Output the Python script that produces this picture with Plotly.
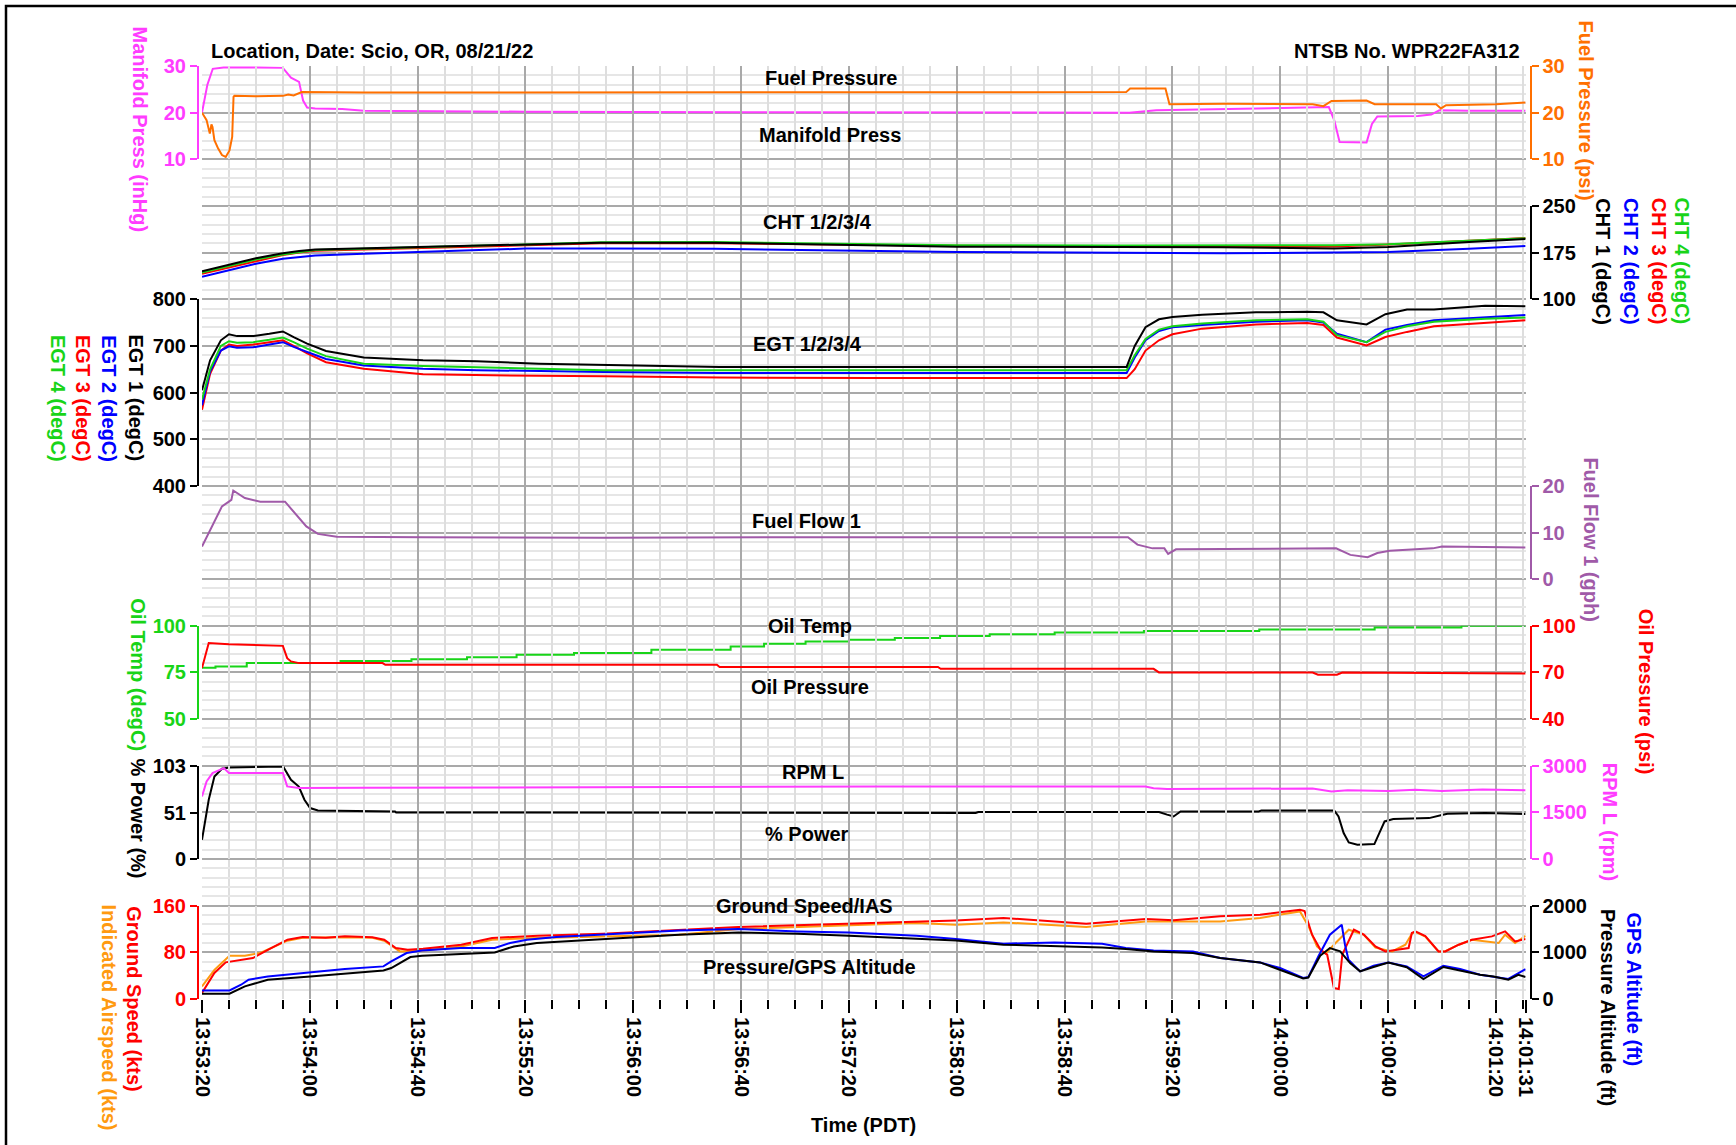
import plotly.graph_objects as go

# ---------------- time axis (seconds after 13:53:20) ----------------
tick_seconds = [0, 40, 80, 120, 160, 200, 240, 280, 320, 360, 400, 440, 480, 491]
tick_labels = ["13:53:20", "13:54:00", "13:54:40", "13:55:20", "13:56:00", "13:56:40",
               "13:57:20", "13:58:00", "13:58:40", "13:59:20", "14:00:00", "14:00:40",
               "14:01:20", "14:01:31"]

# ---------------- Manifold pressure (inHg) ----------------
map_t = [0, 2, 4, 8, 20, 30, 33, 36, 37.5, 39, 42, 52, 60, 120, 200, 300, 344, 354, 378,
         412, 418, 420, 422, 432, 434, 436, 451, 456, 459, 470, 491]
map_v = [20, 26, 29.4, 29.7, 29.7, 29.6, 27.5, 26.6, 22.6, 21.1, 20.9, 20.8, 20.4, 20.2,
         20.1, 20.0, 20.0, 20.5, 20.8, 21.1, 21.2, 18.4, 13.7, 13.6, 17.6, 19.2, 19.3,
         19.6, 20.5, 20.4, 20.4]

# ---------------- Fuel pressure (psi) ----------------
fp_t = [0, 1.7, 2.9, 3.5, 3.9, 4.6, 6.0, 7.4, 8.8, 10.2, 11.2, 11.7, 12, 20, 30, 32, 34,
        37, 60, 120, 200, 300, 342.8, 344.3, 357.4, 358.9, 380, 412, 416, 419, 432, 435,
        457.8, 459.6, 461.5, 480, 491]
fp_v = [20, 18.4, 15.5, 17.5, 16.9, 14.1, 12.3, 10.9, 10.5, 11.9, 14.8, 23.4, 23.6, 23.5,
        23.6, 23.9, 23.7, 24.4, 24.3, 24.3, 24.4, 24.3, 24.4, 25.2, 25.2, 21.8, 21.9, 21.8,
        21.4, 22.5, 22.6, 21.8, 21.8, 20.9, 21.6, 21.8, 22.2]

# ---------------- CHT (degC) ----------------
cht_t = [0, 10, 20, 30, 36, 42, 60, 80, 120, 148, 190, 280, 340, 378, 420, 440, 470, 491]
cht1 = [145, 155, 166, 174, 177.7, 180, 182, 184, 188.4, 191, 191, 184.5, 184, 183.5, 181.5, 184, 192, 197]
cht2 = [136, 146, 157, 165, 168, 170.5, 173, 176, 181.5, 181.5, 181, 176, 175, 174, 175, 176, 181, 185.7]
cht3 = [141, 151, 162, 171, 175, 178, 180, 182.5, 187, 190, 190, 186, 185, 184, 185, 188, 194, 198.6]
cht4 = [143, 153, 164, 172, 176, 179, 181, 183.5, 189, 191.5, 192, 187, 186.5, 186.5, 187, 188.5, 194, 198]

# ---------------- EGT (degC) ----------------
egt_t = [0, 3, 7, 10, 13, 19, 25, 30, 34, 39, 46, 60, 82, 102, 125, 149, 192, 250, 300, 343,
         346, 350, 355, 360, 371, 391, 410, 416, 421, 432, 439, 447, 457, 476, 491]
egt1 = [605, 669, 712, 725, 721, 721, 726, 731, 719, 705, 689, 675, 669, 667, 662, 660, 655,
        655, 655, 655, 700, 740, 757, 762, 767, 772, 773, 772, 755, 746, 768, 778, 778, 786, 785]
egt2 = [573, 645, 690, 699, 696, 697, 703, 708, 698, 687, 672, 658, 651, 648, 646, 644, 642,
        642, 642, 642, 675, 712, 732, 740, 745, 752, 755, 750, 726, 708, 735, 745, 755, 762, 766]
egt3 = [563, 640, 690, 703, 700, 703, 708, 712, 700, 684, 665, 651, 639, 637, 636, 635, 632,
        631, 631, 631, 650, 690, 712, 725, 737, 746, 749, 745, 718, 701, 719, 730, 742, 750, 755]
egt4 = [585, 650, 700, 710, 707, 708, 713, 718, 708, 694, 678, 662, 657, 654, 650, 648, 648,
        648, 648, 648, 680, 715, 735, 742, 748, 755, 757, 752, 723, 708, 730, 742, 752, 758, 761]

# ---------------- Fuel flow (gph) ----------------
ff_t = [0, 7.4, 10.9, 11.6, 15.9, 21.6, 30.8, 34.4, 38.7, 43, 50, 82, 149, 250, 343.5, 347,
        352.6, 357, 358.4, 361.3, 378, 420.7, 426, 432.4, 436, 440.6, 456.6, 460, 491]
ff_v = [7.0, 15.6, 17.0, 19.0, 17.4, 16.6, 16.6, 14.1, 11.3, 9.7, 9.1, 9.0, 8.9, 9.0, 9.0,
        7.4, 6.6, 6.6, 5.4, 6.4, 6.5, 6.6, 5.2, 4.7, 5.6, 6.1, 6.6, 7.0, 6.8]

# ---------------- Oil temperature (degC) ----------------
ot_t = [0, 5, 16.6, 51.4, 77.7, 98.3, 116.7, 138, 166.7, 196.1, 208.5, 223.9, 240, 257,
        273.8, 292.2, 316.3, 349.4, 392.2, 435, 467.2, 491]
ot_v = [77.5, 78.2, 80.0, 81.2, 82.1, 83.2, 84.5, 85.4, 87.1, 88.9, 90.4, 91.6, 92.5, 93.4,
        94.6, 95.5, 96.4, 97.2, 98.0, 99.1, 100.0, 100.0]

# ---------------- Oil pressure (psi) ----------------
op_t = [0, 2.5, 10, 30, 31.6, 33, 36, 67, 68, 191, 192, 273, 274, 353, 355, 412, 414, 421, 423, 491]
op_v = [72.8, 88.9, 88.2, 87.1, 79.2, 77.1, 76.0, 76.0, 74.9, 74.9, 73.5, 73.5, 72.3, 72.3,
        70.0, 70.0, 68.6, 68.6, 70.0, 69.3]

# ---------------- RPM ----------------
rpm_t = [0, 1.7, 3.9, 8.1, 10, 30, 31.6, 35.9, 60, 150, 250, 350, 353, 358, 380, 412, 419,
         425, 440, 450, 460, 475, 491]
rpm_v = [2013, 2495, 2765, 2925, 2765, 2765, 2335, 2283, 2290, 2310, 2330, 2330, 2280, 2250,
         2260, 2270, 2170, 2210, 2190, 2230, 2190, 2240, 2210]

# ---------------- % Power ----------------
pw_t = [0, 2.5, 4.6, 7.4, 10.2, 30.1, 33, 35.9, 38, 40.1, 43, 71.6, 72, 287, 288, 355, 358,
        360.4, 363, 392, 393, 420, 421.6, 423.5, 425.4, 428.6, 434.9, 436.8, 438.7, 441.9,
        455.2, 460.3, 462, 476, 491]
pw_v = [21.3, 65.5, 91.2, 99.7, 101.1, 102.2, 87.5, 80.1, 65.5, 56.3, 53.7, 52.6, 51.4, 50.8,
        51.9, 51.9, 49, 47, 52.6, 52.6, 53.7, 53.7, 47, 28.7, 18.3, 15.8, 16.5, 28.7, 41.5,
        44.1, 45.2, 48.9, 50, 50.8, 49.8]

# ---------------- Ground speed (kts) ----------------
gs_t = [0, 4.6, 8.8, 13.1, 18.9, 24.6, 31.7, 37.3, 45.9, 53, 63.2, 67.6, 71.9, 76.3, 82,
        96.2, 107.6, 124.6, 148.7, 199, 240, 279.7, 297.3, 328, 350.1, 360.5, 377.7, 392.5,
        407.3, 409, 411.8, 414.9, 417.4, 419.9, 421.7, 423, 427.3, 431, 435.3, 439, 447.6,
        448.8, 450.1, 453.8, 458.7, 461.2, 466.2, 471.1, 478.5, 483.4, 487.1, 491]
gs_v = [10.3, 44.6, 62.8, 65.7, 70.3, 84.5, 101.7, 106.3, 105, 107.4, 106, 101.7, 87.4, 84.5,
        86, 93.1, 104.6, 108.5, 112, 123.4, 129.1, 134.8, 138.9, 129.1, 137.2, 135, 141.7,
        144.6, 153.1, 151, 110.3, 84.5, 76, 18.8, 17.1, 76, 118.8, 110.3, 90.2, 81.6, 87.4,
        113.2, 116, 108, 81.6, 81.6, 93.1, 101.7, 107.4, 116, 98.8, 102.9]

# ---------------- Indicated airspeed (kts) ----------------
ias_t = [0, 4.6, 10.2, 15.9, 21.6, 31.7, 37.3, 53, 63.2, 67.6, 73.4, 82, 96.2, 107.6, 124.6,
         148.7, 177, 199, 240, 265, 279.7, 297.3, 328, 350.1, 377.7, 392.5, 407.3, 410.5,
         413.6, 416.8, 420.5, 425.4, 431, 435.3, 441.5, 446.4, 448.8, 450.1, 453.8, 458.7,
         461.2, 466.2, 471.1, 481, 483.4, 487.1, 491]
ias_v = [21.6, 50, 74.3, 74.3, 78.9, 100, 105, 106, 105, 100, 81.6, 83.3, 90, 101.7, 104.6,
         107.4, 110.3, 120, 125.7, 130.3, 127.3, 131.4, 123.4, 133.1, 133, 138.9, 150.2,
         124.5, 90.2, 77.7, 96, 118.8, 110, 88, 81.6, 93.1, 112, 115, 107, 81.6, 82, 93.1,
         101.7, 96, 110.3, 96, 108.5]

# ---------------- GPS altitude (ft) ----------------
gps_t = [0, 10.2, 14.5, 17.3, 24.4, 40.2, 53, 67.3, 70.2, 75.9, 81.6, 95.8, 108.6, 114.3,
         120.6, 131.4, 148.2, 177, 199, 220.9, 240, 265, 279.7, 297.3, 316.3, 333.9, 342.7,
         353, 367.6, 377.7, 392.5, 399.9, 408.5, 410.4, 414.1, 418.4, 422.8, 424, 425.3,
         429.6, 434.6, 440.1, 446.9, 453.1, 460.5, 466.7, 474.1, 479.1, 484.6, 491]
gps_v = [184, 184, 306, 413, 484, 570, 642, 699, 806, 986, 1042, 1093, 1093, 1200, 1271,
         1329, 1385, 1470, 1500, 1449, 1428, 1357, 1286, 1185, 1213, 1185, 1093, 1042, 1020,
         879, 784, 664, 450, 470, 913, 1378, 1592, 1164, 842, 592, 714, 784, 700, 484, 714,
         642, 521, 484, 429, 642]

# ---------------- Pressure altitude (ft) ----------------
palt_t = [0, 10.2, 15.9, 24.4, 40.2, 53, 67.3, 70.2, 77.3, 81.6, 95.8, 108.6, 115.7, 124.2,
          148.2, 177, 199, 220.9, 240, 265, 279.7, 297.3, 316.3, 333.9, 342.7, 353, 367.6,
          377.7, 392.5, 399.9, 408.5, 410.4, 414.8, 418.4, 422.2, 425.9, 429.6, 434.6,
          440.1, 446.9, 453.1, 460.5, 466.7, 474.1, 479.1, 484.6, 488.3, 491]
palt_v = [113, 113, 270, 413, 484, 542, 613, 664, 900, 928, 971, 999, 1127, 1200, 1280,
          1378, 1428, 1400, 1357, 1286, 1256, 1164, 1127, 1106, 1072, 1020, 986, 879, 784,
          628, 442, 460, 928, 1093, 1020, 771, 592, 686, 784, 680, 429, 686, 613, 521, 484,
          413, 520, 471]

# ---------------- styling ----------------
MAGENTA = "#ff3cff"
ORANGE = "#ff7000"
IAS_OR = "#ff9a10"
BLACK = "#000000"
BLUE = "#0000ff"
RED = "#ff0000"
GREEN = "#18d418"
PURPLE = "#a05aa8"
FONT = "Arial, 'Liberation Sans', sans-serif"

W_FIG, H_FIG = 1736, 1145
ML, MR, MT, MB = 180, 190, 66, 146
PW = W_FIG - ML - MR
PH = H_FIG - MT - MB


def fx(px):
    return (px - ML) / PW


def fy(py):
    return 1 - (py - MT) / PH


def dom(g0, g1):
    return [1 - g1 / 20, 1 - g0 / 20]


X0, X1 = fx(202), fx(1525.6)
LEFT_POS, RIGHT_POS = fx(198), fx(1530.5)

fig = go.Figure()

# invisible trace so that the background grid subplot (x, y) is rendered
fig.add_trace(go.Scatter(x=[0, 491], y=[0, 20], xaxis="x", yaxis="y", mode="markers",
                         marker=dict(opacity=0, size=1), showlegend=False,
                         hoverinfo="skip"))


def add(t, v, yax, color, shape="linear"):
    fig.add_trace(go.Scatter(x=t, y=v, yaxis=yax, xaxis="x", mode="lines",
                             line=dict(color=color, width=2, shape=shape),
                             showlegend=False, hoverinfo="skip"))


add(fp_t, fp_v, "y3", ORANGE)
add(map_t, map_v, "y2", MAGENTA)
add(cht_t, cht2, "y4", BLUE)
add(cht_t, cht3, "y4", RED)
add(cht_t, cht4, "y4", GREEN)
add(cht_t, cht1, "y4", BLACK)
add(egt_t, egt3, "y5", RED)
add(egt_t, egt2, "y5", BLUE)
add(egt_t, egt4, "y5", GREEN)
add(egt_t, egt1, "y5", BLACK)
add(ff_t, ff_v, "y6", PURPLE)
add(ot_t, ot_v, "y7", GREEN, "hv")
add(op_t, op_v, "y8", RED)
add(rpm_t, rpm_v, "y10", MAGENTA)
add(pw_t, pw_v, "y9", BLACK)
add(ias_t, ias_v, "y11", IAS_OR)
add(gs_t, gs_v, "y11", RED)
add(gps_t, gps_v, "y12", BLUE)
add(palt_t, palt_v, "y12", BLACK)


def yax(side, d, rng, tickvals, color):
    return dict(domain=d, range=rng, anchor="free",
                position=LEFT_POS if side == "left" else RIGHT_POS, side=side,
                tickmode="array", tickvals=tickvals, showgrid=False, zeroline=False,
                showline=True, linecolor=color, linewidth=2, ticks="outside",
                ticklen=7, tickwidth=2, tickcolor=color,
                tickfont=dict(family=FONT, size=20, color=color, weight="bold"),
                automargin=False, fixedrange=True)


layout = dict(
    width=W_FIG, height=H_FIG, template="none",
    margin=dict(l=ML, r=MR, t=MT, b=MB, pad=0),
    paper_bgcolor="white", plot_bgcolor="rgba(0,0,0,0)",
    showlegend=False, font=dict(family=FONT, size=20, color="black"),
    xaxis=dict(domain=[X0, X1], range=[0, 491], anchor="y", tickmode="array",
               tickvals=tick_seconds, ticktext=tick_labels, tickangle=90,
               ticks="outside", ticklen=13, tickwidth=2, tickcolor="black",
               tickfont=dict(family=FONT, size=20, color="black", weight="bold"),
               showgrid=True, gridcolor="#a9a9a9", gridwidth=2, zeroline=False,
               showline=False, automargin=False, fixedrange=True,
               minor=dict(tickmode="linear", tick0=0, dtick=10, ticks="outside",
                          ticklen=9, tickwidth=2, tickcolor="black", showgrid=True,
                          gridcolor="#dedede", gridwidth=1.5)),
    yaxis=dict(domain=[0, 1], range=[0, 20], tickmode="linear", tick0=0, dtick=1,
               showticklabels=False, ticks="", showgrid=True, gridcolor="#a9a9a9",
               gridwidth=2, zeroline=False, showline=False, automargin=False,
               fixedrange=True,
               minor=dict(tickmode="linear", tick0=0, dtick=0.2, showgrid=True,
                          gridcolor="#e6e6e6", gridwidth=1.5, ticks="")),
    yaxis2=yax("left", dom(0, 2), [10, 30], [10, 20, 30], MAGENTA),
    yaxis3=yax("right", dom(0, 2), [10, 30], [10, 20, 30], ORANGE),
    yaxis4=yax("right", dom(3, 5), [100, 250], [100, 175, 250], BLACK),
    yaxis5=yax("left", dom(5, 9), [400, 800], [400, 500, 600, 700, 800], BLACK),
    yaxis6=yax("right", dom(9, 11), [0, 20], [0, 10, 20], PURPLE),
    yaxis7=yax("left", dom(12, 14), [50, 100], [50, 75, 100], GREEN),
    yaxis8=yax("right", dom(12, 14), [40, 100], [40, 70, 100], RED),
    yaxis9=yax("left", dom(15, 17), [0, 103], [0, 51, 103], BLACK),
    yaxis10=yax("right", dom(15, 17), [0, 3000], [0, 1500, 3000], MAGENTA),
    yaxis11=yax("left", dom(18, 20), [0, 160], [0, 80, 160], RED),
    yaxis12=yax("right", dom(18, 20), [0, 2000], [0, 1000, 2000], BLACK),
)
fig.update_layout(**layout)

annotations = []


def note(text, px, py, color=BLACK, angle=0, xanchor="center"):
    annotations.append(dict(text=text, x=fx(px), y=fy(py), xref="paper", yref="paper",
                            showarrow=False, textangle=angle, xanchor=xanchor,
                            yanchor="middle",
                            font=dict(family=FONT, size=20, color=color, weight="bold")))


# header
note("Location, Date: Scio, OR, 08/21/22", 209, 51.5, xanchor="left")
note("NTSB No. WPR22FA312", 1521.5, 51, xanchor="right")

# in-plot panel labels
note("Fuel Pressure", 831, 78.3)
note("Manifold Press", 830, 135)
note("CHT 1/2/3/4", 817, 221.7)
note("EGT 1/2/3/4", 807.6, 344)
note("Fuel Flow 1", 806.4, 520.7)
note("Oil Temp", 809.6, 626)
note("Oil Pressure", 809.6, 687.3)
note("RPM L", 812.7, 772.3)
note("% Power", 806.8, 834)
note("Ground Speed/IAS", 804.8, 906)
note("Pressure/GPS Altitude", 809.6, 967.3)

# left axis titles (rotated, reading top to bottom)
note("Manifold Press (inHg)", 139.7, 129.2, MAGENTA, 90)
note("EGT 1 (degC)", 135.9, 398.3, BLACK, 90)
note("EGT 2 (degC)", 109, 398.3, BLUE, 90)
note("EGT 3 (degC)", 82.3, 398.3, RED, 90)
note("EGT 4 (degC)", 57.4, 398.3, GREEN, 90)
note("Oil Temp (degC)", 137.8, 675, GREEN, 90)
note("% Power (%)", 137.8, 818.3, BLACK, 90)
note("Ground Speed (kts)", 134, 999.2, RED, 90)
note("Indicated Airspeed (kts)", 109, 1017.5, IAS_OR, 90)

# right axis titles
note("Fuel Pressure (psi)", 1586.3, 110.8, ORANGE, 90)
note("CHT 1 (degC)", 1603.4, 261.6, BLACK, 90)
note("CHT 2 (degC)", 1631.5, 261.6, BLUE, 90)
note("CHT 3 (degC)", 1659.8, 261.6, RED, 90)
note("CHT 4 (degC)", 1682, 261.6, GREEN, 90)
note("Fuel Flow 1 (gph)", 1591.5, 538.9, PURPLE, 90)
note("Oil Pressure (psi)", 1646, 691.7, RED, 90)
note("RPM L (rpm)", 1610, 821.7, MAGENTA, 90)
note("Pressure Altitude (ft)", 1608.5, 1007.5, BLACK, 90)
note("GPS Altitude (ft)", 1633.5, 990, BLUE, 90)

# x axis title
note("Time (PDT)", 863.6, 1125)

fig.update_layout(annotations=annotations)

# outer frame (left and top edges visible)
fig.add_shape(type="rect", xref="paper", yref="paper",
              x0=fx(6), x1=fx(1745), y0=fy(1155), y1=fy(6),
              line=dict(color="black", width=2.5), fillcolor="rgba(0,0,0,0)", layer="above")

fig.write_html("out.html", config={"displayModeBar": False},
               post_script="document.body.style.margin='0';document.body.style.overflow='hidden';")
